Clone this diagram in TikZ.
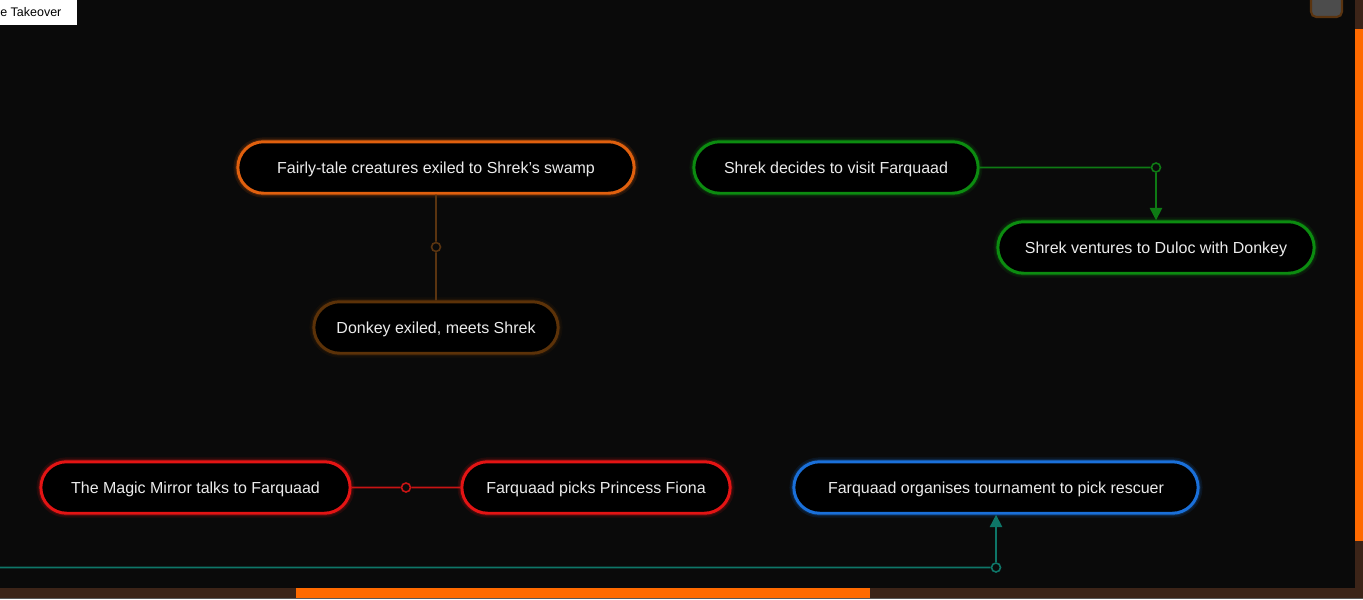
\documentclass[tikz,border=0pt]{standalone}
\usepackage{fontspec}
\setmainfont{Liberation Sans}
\usetikzlibrary{shapes.misc,arrows.meta}
\definecolor{bgdark}{HTML}{0A0A0A}
\definecolor{scrolltrack}{HTML}{3C2418}
\definecolor{scrollthumb}{HTML}{FF6A00}
\definecolor{fairyorange}{HTML}{E0600E}
\definecolor{donkeybrown}{HTML}{5C3208}
\definecolor{shrekgreen}{HTML}{0C8C10}
\definecolor{mirrorred}{HTML}{E41414}
\definecolor{tourneyblue}{HTML}{1A70DA}
\definecolor{linkbrown}{HTML}{5A3410}
\definecolor{linkgreen}{HTML}{0E7A14}
\definecolor{linkred}{HTML}{C81414}
\definecolor{linkteal}{HTML}{0E7668}
\tikzset{
  event/.style={rounded rectangle, draw=#1, fill=black, line width=1.7pt,
    text=white!92!black, font=\fontsize{9.1}{11}\selectfont,
    text height=7.6pt, text depth=1pt,
    minimum height=1.03cm,
    preaction={draw=#1, draw opacity=0.12, line width=5pt},
    preaction={draw=#1, draw opacity=0.18, line width=3pt}},
  wd/.style={minimum width=#1*0.02cm},
  hub/.style={circle, draw=#1, fill=bgdark, line width=0.9pt, inner sep=0pt,
    minimum size=0.18cm},
  link/.style={draw=#1, line width=0.9pt},
}
\begin{document}
\begin{tikzpicture}[x=0.02cm, y=-0.02cm]
\useasboundingbox (0,0) rectangle (1363,599);
\fill[bgdark] (0,0) rectangle (1363,599);

% story events
\node[event=fairyorange, wd=408] (fairy) at (436,167.5) {Fairly-tale creatures exiled to Shrek's swamp};
\node[event=donkeybrown, wd=256] (donkey) at (436,327.5) {Donkey exiled, meets Shrek};
\node[event=shrekgreen, wd=296] (visit) at (836,167.5) {Shrek decides to visit Farquaad};
\node[event=shrekgreen, wd=328] (duloc) at (1156,247.5) {Shrek ventures to Duloc with Donkey};
\node[event=mirrorred, wd=321] (mirror) at (195.5,487.5) {The Magic Mirror talks to Farquaad};
\node[event=mirrorred, wd=280] (fiona) at (596,487.5) {Farquaad picks Princess Fiona};
\node[event=tourneyblue, wd=416] (tourney) at (996,487.5) {Farquaad organises tournament to pick rescuer};

% links
\node[hub=linkbrown] (hubfairy) at (436,247) {};
\node[hub=linkgreen] (hubvisit) at (1156,167.5) {};
\node[hub=linkred] (hubmirror) at (406,487.5) {};
\node[hub=linkteal] (hubtourney) at (996,567.5) {};
\coordinate (tealstart) at (0,567.5);

\draw[link=linkbrown] (fairy) -- (hubfairy) -- (donkey);
\draw[link=linkgreen, -{Triangle[length=7pt,width=7pt]}] (visit) -- (hubvisit) -- (duloc);
\draw[link=linkred] (mirror) -- (hubmirror) -- (fiona);
\draw[link=linkteal, -{Triangle[length=7pt,width=7pt]}] (tealstart) -- (hubtourney) -- (tourney);

% page chrome
\fill[white] (0,0) rectangle (77,25);
\node[anchor=west, inner sep=0pt, font=\fontsize{7.1}{8}\selectfont, text=black] (tab) at (0,12.5) {e Takeover};
\filldraw[fill=gray!60!black, draw=linkbrown, line width=1.2pt, rounded corners=3pt]
  (1311,-5) rectangle (1342,17);
\fill[scrolltrack] (1355,0) rectangle (1363,599);
\fill[scrollthumb] (1355,29) rectangle (1363,541);
\fill[scrolltrack] (0,588) rectangle (1363,598);
\fill[scrollthumb] (296,588) rectangle (870,598);
\fill[gray!70!black] (0,598) rectangle (1363,599);
\end{tikzpicture}
\end{document}
